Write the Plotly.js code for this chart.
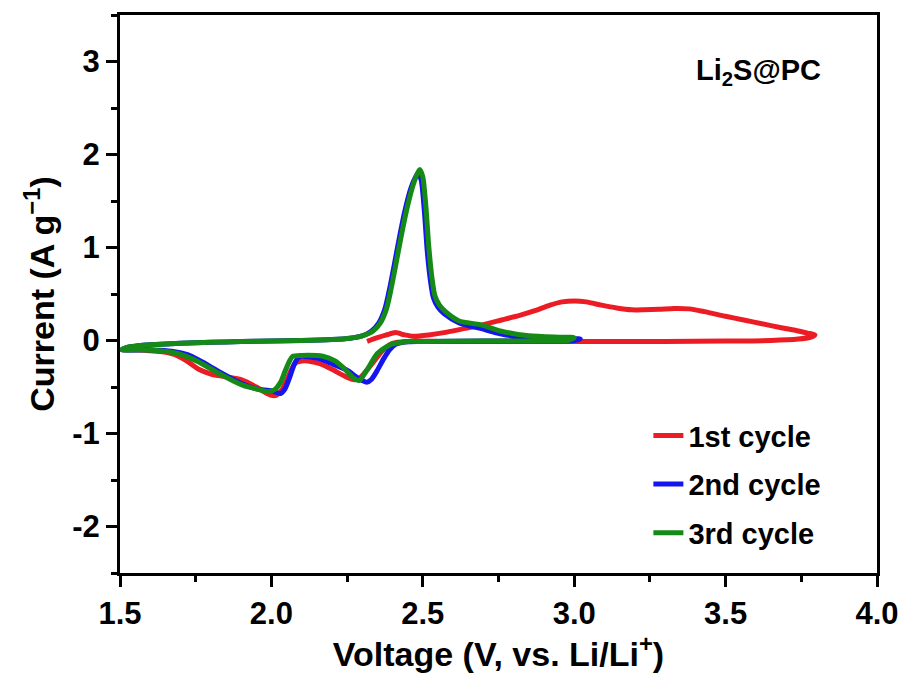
<!DOCTYPE html>
<html>
<head>
<meta charset="utf-8">
<script src="https://cdn.plot.ly/plotly-3.0.1.min.js"></script>
<style>html,body{margin:0;padding:0;background:#fff;}#chart{width:900px;height:673px;}</style>
</head>
<body>
<div id="chart"></div>
<script>
// 1st cycle (starts at OCV, anodic first)
const v1 = [2.316,2.35,2.38,2.41,2.44,2.47,2.52,2.58,2.64,2.70,2.76,2.82,2.87,2.92,2.96,3.00,3.04,3.09,3.14,3.19,3.23,3.28,3.33,3.38,3.43,3.50,3.56,3.62,3.68,3.73,3.77,3.795,3.78,3.74,3.65,3.5,3.3,3.1,2.9,2.7,2.55,2.45,2.40,2.37,2.34,2.31,2.29,2.27,2.24,2.20,2.16,2.12,2.10,2.08,2.065,2.05,2.035,2.015,2.00,1.98,1.95,1.90,1.85,1.80,1.76,1.72,1.68,1.64,1.60,1.55,1.505];
const i1 = [-0.01,0.03,0.06,0.085,0.06,0.045,0.06,0.09,0.13,0.17,0.22,0.27,0.32,0.38,0.415,0.425,0.415,0.38,0.35,0.33,0.33,0.335,0.345,0.34,0.31,0.26,0.22,0.18,0.14,0.11,0.08,0.06,0.035,0.015,0.0,-0.005,-0.01,-0.01,-0.01,-0.01,-0.01,-0.01,-0.03,-0.10,-0.22,-0.34,-0.41,-0.42,-0.38,-0.31,-0.25,-0.22,-0.22,-0.24,-0.32,-0.43,-0.53,-0.59,-0.59,-0.56,-0.50,-0.42,-0.39,-0.36,-0.31,-0.22,-0.15,-0.12,-0.11,-0.10,-0.10];

// 2nd cycle
const v2 = [1.505,1.53,1.56,1.60,1.70,1.80,1.90,2.00,2.10,2.20,2.26,2.30,2.33,2.355,2.375,2.39,2.405,2.42,2.44,2.46,2.475,2.485,2.495,2.505,2.515,2.525,2.535,2.55,2.57,2.62,2.69,2.76,2.83,2.92,3.00,3.02,3.00,2.90,2.70,2.50,2.44,2.41,2.39,2.37,2.35,2.33,2.315,2.30,2.28,2.25,2.20,2.15,2.10,2.09,2.075,2.06,2.045,2.03,2.00,1.95,1.90,1.83,1.76,1.72,1.68,1.63,1.58,1.505];
const i2 = [-0.10,-0.07,-0.055,-0.045,-0.03,-0.02,-0.012,-0.005,0.0,0.01,0.025,0.05,0.10,0.19,0.34,0.55,0.80,1.06,1.38,1.63,1.75,1.80,1.72,1.40,0.95,0.65,0.46,0.36,0.29,0.19,0.13,0.07,0.035,0.025,0.02,0.015,0.0,-0.005,-0.005,-0.01,-0.015,-0.04,-0.10,-0.20,-0.32,-0.42,-0.45,-0.43,-0.39,-0.32,-0.25,-0.19,-0.17,-0.18,-0.26,-0.40,-0.52,-0.57,-0.54,-0.52,-0.46,-0.34,-0.21,-0.15,-0.12,-0.105,-0.10,-0.10];

// 3rd cycle
const v3 = [1.505,1.53,1.56,1.60,1.70,1.80,1.90,2.00,2.10,2.20,2.26,2.30,2.335,2.36,2.38,2.395,2.41,2.425,2.445,2.465,2.48,2.49,2.50,2.51,2.52,2.53,2.54,2.555,2.575,2.62,2.69,2.76,2.85,2.95,3.00,2.98,2.90,2.70,2.50,2.45,2.41,2.39,2.35,2.315,2.29,2.27,2.24,2.21,2.17,2.10,2.07,2.06,2.045,2.03,2.01,1.99,1.95,1.905,1.83,1.76,1.69,1.63,1.56,1.505];
const i3 = [-0.10,-0.07,-0.055,-0.045,-0.03,-0.02,-0.012,-0.005,0.0,0.01,0.025,0.05,0.10,0.19,0.34,0.55,0.80,1.06,1.38,1.64,1.78,1.84,1.76,1.45,1.00,0.68,0.48,0.38,0.31,0.21,0.17,0.10,0.05,0.035,0.03,0.0,-0.005,-0.005,-0.01,-0.01,-0.03,-0.05,-0.14,-0.32,-0.43,-0.40,-0.30,-0.22,-0.17,-0.16,-0.17,-0.22,-0.33,-0.45,-0.53,-0.55,-0.52,-0.48,-0.36,-0.23,-0.14,-0.11,-0.10,-0.10];

const names = ['1st cycle','2nd cycle','3rd cycle'];
const colors = ['#ec1c24','#1515f0','#168a16'];
const xTicks = [1.5,2.0,2.5,3.0,3.5,4.0];
const xTickText = ['1.5','2.0','2.5','3.0','3.5','4.0'];
const yTicks = [-2,-1,0,1,2,3];
const yTickText = ['-2','-1','0','1','2','3'];

const FONT = 'Arial, "Liberation Sans", Helvetica, sans-serif';
const series = [[v1,i1],[v2,i2],[v3,i3]];
const traces = series.map((s,k)=>({
  x: s[0], y: s[1], type:'scatter', mode:'lines', name: names[k],
  legendgroup: 'g'+k,
  line:{color:colors[k], width:5, shape:'spline', smoothing:0.7}
}));

const axisCommon = {
  showline:true, linecolor:'#000', linewidth:3, mirror:true,
  ticks:'outside', tickcolor:'#000', tickwidth:3, ticklen:11,
  showgrid:false, zeroline:false,
  tickfont:{family:FONT, size:31, color:'#000', weight:'bold'},
  minor:{ticks:'outside', ticklen:6, tickwidth:3, tickcolor:'#000', showgrid:false}
};

const layout = {
  width:900, height:673,
  margin:{l:120, r:23, t:15, b:100},
  paper_bgcolor:'#fff', plot_bgcolor:'#fff',
  showlegend:true,
  legend:{x:0.698, y:0.292, xanchor:'left', yanchor:'top', bgcolor:'rgba(0,0,0,0)',
    font:{family:FONT, size:29, color:'#000', weight:'bold'}, tracegroupgap:8},
  xaxis: Object.assign({}, axisCommon, {
    range:[1.5,4.0], tickvals:xTicks, ticktext:xTickText,
    minor:Object.assign({}, axisCommon.minor, {dtick:0.25, tick0:1.5}),
    title:{text:'Voltage (V, vs. Li/Li<sup>+</sup>)', font:{family:FONT, size:34, color:'#000', weight:'bold'}, standoff:6}
  }),
  yaxis: Object.assign({}, axisCommon, {
    range:[-2.5,3.5], tickvals:yTicks, ticktext:yTickText,
    minor:Object.assign({}, axisCommon.minor, {dtick:0.5, tick0:-2.5}),
    title:{text:'Current (A g<sup>−1</sup>)', font:{family:FONT, size:34, color:'#000', weight:'bold'}, standoff:8}
  }),
  annotations:[{
    text:'Li<sub>2</sub>S@PC', xref:'paper', yref:'paper', x:0.843, y:0.898,
    xanchor:'center', yanchor:'middle', showarrow:false,
    font:{family:FONT, size:29, color:'#000', weight:'bold'}
  }]
};

Plotly.newPlot('chart', traces, layout, {displayModeBar:false, staticPlot:true});
</script>
</body>
</html>
